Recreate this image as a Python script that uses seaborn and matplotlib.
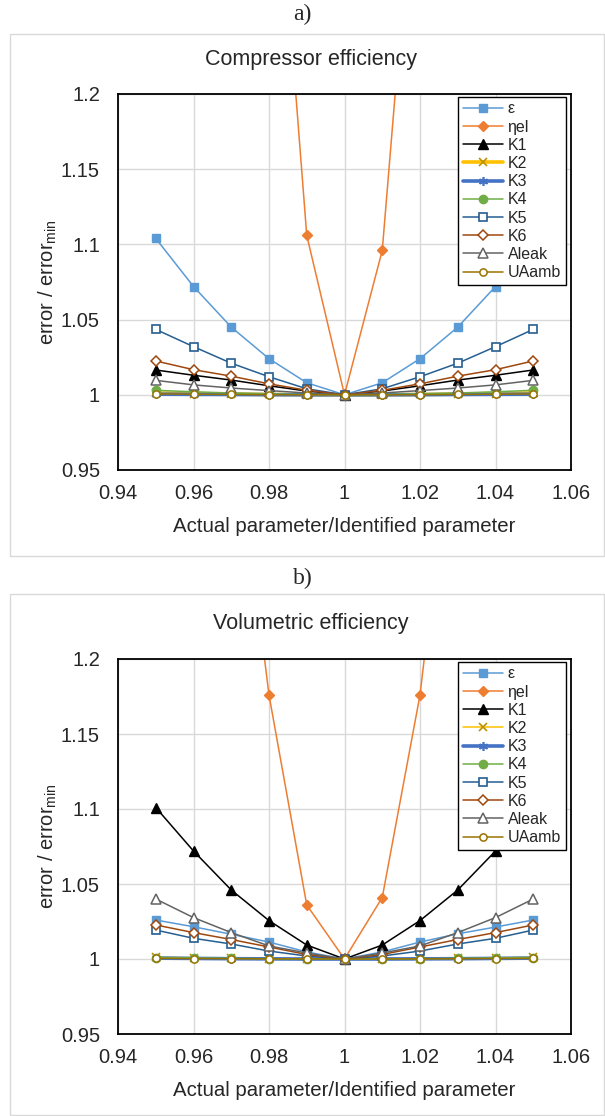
import numpy as np
import pandas as pd
import matplotlib
matplotlib.use("Agg")
import matplotlib.pyplot as plt
from matplotlib.patches import Rectangle
from matplotlib.ticker import FixedLocator, FuncFormatter
import seaborn as sns

# Parameter ratio (actual / identified)
ratio = [0.95, 0.96, 0.97, 0.98, 0.99, 1.00, 1.01, 1.02, 1.03, 1.04, 1.05]

series_names = ["ε", "ηel", "K1", "K2", "K3", "K4", "K5", "K6", "Aleak", "UAamb"]

# a) compressor efficiency: error / error_min
comp_eps = [1.104, 1.072, 1.045, 1.024, 1.008, 1.0, 1.008, 1.024, 1.045, 1.072, 1.104]
comp_eta = [3.60, 2.70, 1.95, 1.43, 1.106, 1.0, 1.096, 1.40, 1.90, 2.60, 3.50]
comp_k1 = [1.0165, 1.013, 1.0098, 1.006, 1.0025, 1.0, 1.0025, 1.006, 1.0098, 1.013, 1.0165]
comp_k2 = [1.0012, 1.0008, 1.0005, 1.0002, 1.0001, 1.0, 1.0001, 1.0002, 1.0005, 1.0008, 1.0012]
comp_k3 = [1.0004, 1.0003, 1.0002, 1.0001, 1.0, 1.0, 1.0, 1.0001, 1.0002, 1.0003, 1.0004]
comp_k4 = [1.003, 1.002, 1.0012, 1.0006, 1.0002, 1.0, 1.0002, 1.0006, 1.0012, 1.002, 1.003]
comp_k5 = [1.0435, 1.032, 1.021, 1.012, 1.004, 1.0, 1.004, 1.012, 1.021, 1.032, 1.0435]
comp_k6 = [1.0225, 1.0167, 1.0124, 1.0073, 1.003, 1.0, 1.003, 1.0073, 1.0124, 1.0167, 1.0225]
comp_aleak = [1.0096, 1.0066, 1.0045, 1.0028, 1.0012, 1.0, 1.0012, 1.0028, 1.0045, 1.0066, 1.0096]
comp_uaamb = [1.0006, 1.0004, 1.0002, 1.0001, 1.0, 1.0, 1.0, 1.0001, 1.0002, 1.0004, 1.0006]

# b) volumetric efficiency: error / error_min
vol_eps = [1.026, 1.0215, 1.0165, 1.0113, 1.0047, 1.0, 1.0047, 1.0113, 1.0168, 1.0213, 1.026]
vol_eta = [2.10, 1.70, 1.38, 1.176, 1.036, 1.0, 1.041, 1.176, 1.39, 1.70, 2.10]
vol_k1 = [1.101, 1.072, 1.046, 1.0256, 1.0093, 1.0, 1.0093, 1.0256, 1.046, 1.072, 1.101]
vol_k2 = [1.0012, 1.0008, 1.0005, 1.0002, 1.0001, 1.0, 1.0001, 1.0002, 1.0005, 1.0008, 1.0012]
vol_k3 = [1.0006, 1.0004, 1.0002, 1.0001, 1.0, 1.0, 1.0, 1.0001, 1.0002, 1.0004, 1.0006]
vol_k4 = [1.001, 1.0007, 1.0004, 1.0002, 1.0001, 1.0, 1.0001, 1.0002, 1.0004, 1.0007, 1.001]
vol_k5 = [1.0193, 1.0138, 1.010, 1.0053, 1.002, 1.0, 1.002, 1.0053, 1.010, 1.0138, 1.0193]
vol_k6 = [1.0227, 1.0176, 1.013, 1.008, 1.003, 1.0, 1.003, 1.008, 1.013, 1.0176, 1.0227]
vol_aleak = [1.040, 1.0276, 1.0176, 1.0087, 1.004, 1.0, 1.004, 1.0087, 1.0176, 1.0276, 1.040]
vol_uaamb = [1.0004, 1.0003, 1.0002, 1.0001, 1.0, 1.0, 1.0, 1.0001, 1.0002, 1.0003, 1.0004]

comp_values = [comp_eps, comp_eta, comp_k1, comp_k2, comp_k3, comp_k4,
               comp_k5, comp_k6, comp_aleak, comp_uaamb]
vol_values = [vol_eps, vol_eta, vol_k1, vol_k2, vol_k3, vol_k4,
              vol_k5, vol_k6, vol_aleak, vol_uaamb]

x_ticks = [0.94, 0.96, 0.98, 1.00, 1.02, 1.04, 1.06]
y_ticks = [0.95, 1.00, 1.05, 1.10, 1.15, 1.20]

sns.set_style("white")
plt.rcParams["font.family"] = ["Liberation Sans", "DejaVu Sans"]

# line / marker style of each series
styles = {
    "ε":     dict(color="#5b9bd5", marker="s", ms=6.4, mfc="#5b9bd5", mec="#5b9bd5", lw=1.1),
    "ηel":   dict(color="#ed7d31", marker="D", ms=4.8, mfc="#ed7d31", mec="#ed7d31", lw=1.1),
    "K1":    dict(color="#000000", marker="^", ms=6.8, mfc="#000000", mec="#000000", lw=1.1),
    "K2":    dict(color="#ffc000", marker="x", ms=6.0, mfc="none", mec="#bf9000", lw=2.6, mew=1.2),
    "K3":    dict(color="#4472c4", marker=(6, 2, 0), ms=6.5, mfc="none", mec="#4472c4", lw=2.6, mew=1.2),
    "K4":    dict(color="#70ad47", marker="o", ms=6.0, mfc="#70ad47", mec="#70ad47", lw=1.1),
    "K5":    dict(color="#255e91", marker="s", ms=6.4, mfc="white", mec="#255e91", lw=1.1, mew=1.2),
    "K6":    dict(color="#9e480e", marker="D", ms=5.0, mfc="white", mec="#9e480e", lw=1.1, mew=1.1),
    "Aleak": dict(color="#636363", marker="^", ms=6.8, mfc="white", mec="#636363", lw=1.1, mew=1.1),
    "UAamb": dict(color="#997300", marker="o", ms=5.2, mfc="white", mec="#997300", lw=1.1, mew=1.1),
}

W, H = 605, 1116
fig = plt.figure(figsize=(W / 100, H / 100), dpi=100)


def fx(px):
    return px / W


def fy(py):
    return 1 - py / H


def panel(ax, values, title, tag, box_top, box_bottom, tag_y, title_y, k2_lw):
    # grey frame around each panel
    fig.patches.append(Rectangle((fx(10), fy(box_bottom)), fx(594), (box_bottom - box_top) / H,
                                 transform=fig.transFigure, fill=False,
                                 edgecolor="#d9d9d9", lw=1.0, zorder=0))
    fig.text(0.5, fy(tag_y), tag, ha="center", va="center", fontsize=17,
             family=["Liberation Serif", "DejaVu Serif"])
    fig.text(fx(311), fy(title_y), title, ha="center", va="center", fontsize=15.5,
             color="#262626")

    for name, vals in zip(series_names, values):
        st = dict(styles[name])
        if name == "K2":
            st["lw"] = k2_lw
        df = pd.DataFrame({"ratio": ratio, "err": vals})
        sns.lineplot(data=df, x="ratio", y="err", ax=ax, label=name,
                     color=st["color"], linewidth=st["lw"], marker=st["marker"],
                     markersize=st["ms"], markerfacecolor=st["mfc"],
                     markeredgecolor=st["mec"], markeredgewidth=st.get("mew", 1.0),
                     estimator=None, sort=False, clip_on=True)

    ax.set_xlim(0.94, 1.06)
    ax.set_ylim(0.95, 1.2)
    ax.xaxis.set_major_locator(FixedLocator(x_ticks))
    ax.yaxis.set_major_locator(FixedLocator(y_ticks))
    fmt = FuncFormatter(lambda v, p: f"{v:g}")
    ax.xaxis.set_major_formatter(fmt)
    ax.yaxis.set_major_formatter(fmt)
    ax.grid(True, color="#d9d9d9", lw=1.0)
    ax.set_axisbelow(True)
    ax.tick_params(axis="both", length=0, labelsize=14.5, colors="#262626")
    ax.tick_params(axis="y", pad=13)
    ax.tick_params(axis="x", pad=10)
    for s in ax.spines.values():
        s.set_visible(True)
        s.set_color("black")
        s.set_linewidth(1.3)
    ax.set_xlabel("Actual parameter/Identified parameter", fontsize=14.7, color="#262626",
                  labelpad=10)
    ax.set_ylabel("error / error$_\\mathregular{min}$", fontsize=14.5, color="#262626",
                  labelpad=1)

    leg = ax.legend(loc="upper right", bbox_to_anchor=(0.988, 0.993), borderaxespad=0,
                    fontsize=11.5, frameon=True, fancybox=False, framealpha=1,
                    edgecolor="black", labelspacing=0.2, handlelength=2.5,
                    handletextpad=0.3, borderpad=0.3)
    leg.get_frame().set_linewidth(1.0)


ax1 = fig.add_axes([fx(118), fy(470), fx(571 - 118), (470 - 94) / H])
panel(ax1, comp_values, "Compressor efficiency", "a)", 34, 556, 14, 60, 2.6)

ax2 = fig.add_axes([fx(118), fy(1034), fx(571 - 118), (1034 - 659) / H])
panel(ax2, vol_values, "Volumetric efficiency", "b)", 594, 1115, 578, 623, 1.1)

fig.savefig("out.png", dpi=100)
